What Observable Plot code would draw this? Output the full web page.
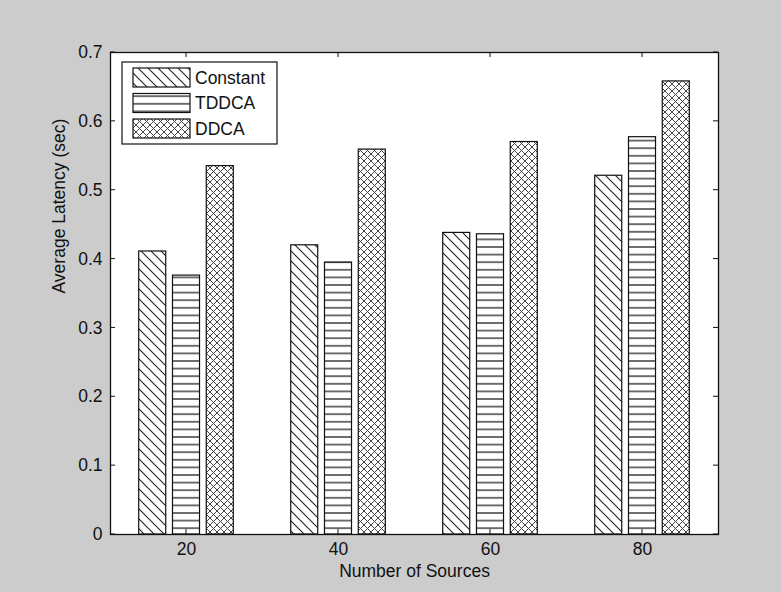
<!DOCTYPE html>
<html>
<head>
<meta charset="utf-8">
<script src="https://cdn.jsdelivr.net/npm/d3@7"></script>
<script src="https://cdn.jsdelivr.net/npm/@observablehq/plot@0.6"></script>
<style>
  html, body { margin: 0; padding: 0; background: #cccccc; }
  #chart { width: 781px; height: 592px; position: relative; }
</style>
</head>
<body>
<svg width="0" height="0" style="position:absolute">
  <defs>
    <pattern id="pat-diag" patternUnits="userSpaceOnUse" width="10" height="10">
      <path d="M0,0 L10,10 M-1,9 L1,11 M9,-1 L11,1" stroke="#222" stroke-width="1.1" fill="none"/>
    </pattern>
    <pattern id="pat-horiz" patternUnits="userSpaceOnUse" width="10" height="7.6">
      <path d="M0,3.8 H10" stroke="#333" stroke-width="1.4" fill="none"/>
    </pattern>
    <pattern id="pat-cross" patternUnits="userSpaceOnUse" width="7" height="7">
      <path d="M0,0 L7,7 M7,0 L0,7" stroke="#444" stroke-width="1" fill="none"/>
    </pattern>
  </defs>
</svg>
<div id="chart"></div>
<script>
// ---- data ----
const sources = [20, 40, 60, 80];
const schemes = ["Constant", "TDDCA", "DDCA"];
const constantLatency = [0.411, 0.420, 0.438, 0.521];
const tddcaLatency = [0.376, 0.395, 0.436, 0.577];
const ddcaLatency = [0.535, 0.559, 0.570, 0.658];
const xTicks = [20, 40, 60, 80];
const yTicks = [0, 0.1, 0.2, 0.3, 0.4, 0.5, 0.6, 0.7];
const xLabel = "Number of Sources";
const yLabel = "Average Latency (sec)";

(function () {
// ---- layout helpers (MATLAB-style grouped bars) ----
const seriesValues = [constantLatency, tddcaLatency, ddcaLatency];
const patterns = ["url(#pat-diag)", "url(#pat-horiz)", "url(#pat-cross)"];
const spacing = 20;                                   // distance between groups
const groupWidth = spacing * Math.min(0.8, 3 / (3 + 1.5));
const step = groupWidth / schemes.length;
const barWidth = step * 0.8;

const rows = schemes.map((name, j) =>
  sources.map((s, i) => ({ source: s, scheme: name, j, value: seriesValues[j][i] }))
);

const font = "'Liberation Sans', Arial, Helvetica, sans-serif";

const barMarks = rows.map((data, j) =>
  Plot.rectY(data, {
    x1: d => d.source + (d.j - 1) * step - barWidth / 2,
    x2: d => d.source + (d.j - 1) * step + barWidth / 2,
    y1: 0,
    y2: "value",
    fill: patterns[j],
    stroke: "#111",
    strokeWidth: 1.2
  })
);

const plot = Plot.plot({
  width: 781,
  height: 592,
  marginLeft: 110,
  marginRight: 63,
  marginTop: 52,
  marginBottom: 58,
  style: { background: "transparent", fontFamily: font, fontSize: "17.5px", color: "#111", overflow: "visible" },
  x: { domain: [10, 90] },
  y: { domain: [0, 0.7] },
  marks: [
    Plot.frame({ fill: "#ffffff" }),
    ...barMarks,
    Plot.frame({ stroke: "#111", strokeWidth: 1.3 }),
    Plot.axisX({ ticks: xTicks, tickSize: 0, tickPadding: 8, tickFormat: d => String(d), label: null, fontSize: 17.5 }),
    Plot.axisY({ ticks: yTicks, tickSize: 0, tickPadding: 8, tickFormat: d => d === 0 ? "0" : d.toFixed(1), label: null, fontSize: 17.5 }),
    Plot.text([xLabel], { text: d => d, frameAnchor: "bottom", dy: 42, fontSize: 17.5, fill: "#111" }),
    Plot.text([yLabel], { text: d => d, frameAnchor: "left", dx: -51, rotate: -90, fontSize: 17.5, fill: "#111" })
  ]
});

document.getElementById("chart").appendChild(plot);

// ---- inward tick marks on all four sides (MATLAB box style) ----
const svg = d3.select(plot);
const xs = plot.scale("x"), ys = plot.scale("y");
const pxLeft = xs.range[0], pxRight = xs.range[1];
const pxBottom = ys.range[0], pxTop = ys.range[1];
const tl = 5;
const tg = svg.append("g").attr("stroke", "#111").attr("stroke-width", 1);
yTicks.forEach(v => {
  const y = ys.apply(v);
  tg.append("line").attr("x1", pxLeft).attr("x2", pxLeft + tl).attr("y1", y).attr("y2", y);
  tg.append("line").attr("x1", pxRight).attr("x2", pxRight - tl).attr("y1", y).attr("y2", y);
});
xTicks.forEach(v => {
  const x = xs.apply(v);
  tg.append("line").attr("x1", x).attr("x2", x).attr("y1", pxBottom).attr("y2", pxBottom - tl);
  tg.append("line").attr("x1", x).attr("x2", x).attr("y1", pxTop).attr("y2", pxTop + tl);
});

// ---- legend (inside the axes, upper left) ----
const lg = svg.append("g").attr("transform", `translate(${pxLeft + 12},${pxTop + 10})`);
const rowH = 25.5;
lg.append("rect").attr("x", 0).attr("y", 0).attr("width", 155).attr("height", 6 + rowH * 2 + 19 + 6)
  .attr("fill", "#fff").attr("stroke", "#111").attr("stroke-width", 1.2);
schemes.forEach((name, j) => {
  const y0 = 6 + j * rowH;
  lg.append("rect").attr("x", 11).attr("y", y0).attr("width", 57).attr("height", 19)
    .attr("fill", patterns[j]).attr("stroke", "#111").attr("stroke-width", 1.2);
  lg.append("text").attr("x", 73).attr("y", y0 + 9.5).attr("dy", "0.35em")
    .attr("text-anchor", "start")
    .attr("font-family", font).attr("font-size", 17.5).attr("fill", "#111").text(name);
});
})();
</script>
</body>
</html>
